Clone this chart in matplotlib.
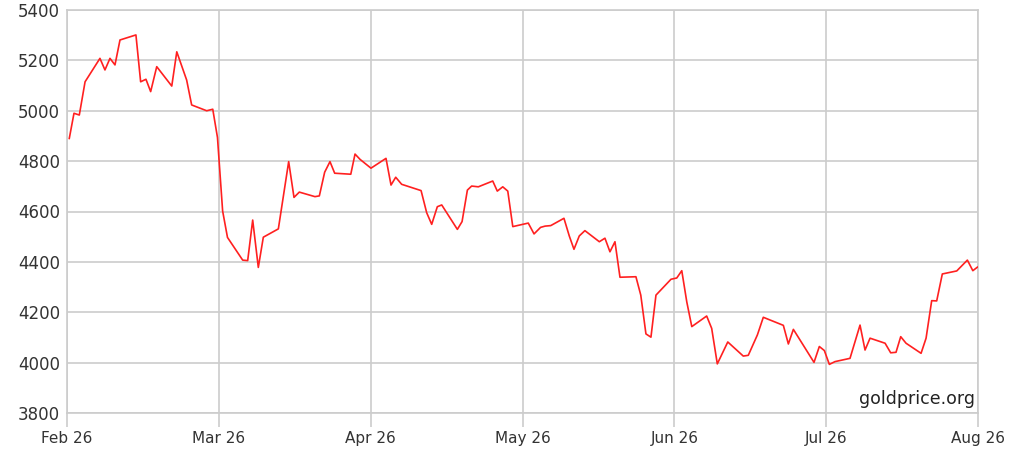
import matplotlib
matplotlib.use("Agg")
import matplotlib.pyplot as plt

# x: months since Feb 26 (each month tick equally spaced), y: price
t_months = [0.015, 0.046, 0.081, 0.119, 0.217, 0.250, 0.283, 0.316, 0.349, 0.454,
            0.485, 0.520, 0.551, 0.591, 0.690, 0.723, 0.788, 0.821, 0.920, 0.960,
            0.991, 1.025, 1.057, 1.157, 1.190, 1.223, 1.260, 1.293, 1.392, 1.460,
            1.495, 1.530, 1.633, 1.662, 1.697, 1.732, 1.763, 1.869, 1.897, 1.930,
            2.002, 2.101, 2.134, 2.165, 2.204, 2.332, 2.369, 2.402, 2.439, 2.468,
            2.571, 2.602, 2.637, 2.665, 2.709, 2.804, 2.834, 2.870, 2.903, 2.936,
            3.038, 3.076, 3.119, 3.149, 3.186, 3.273, 3.308, 3.339, 3.374, 3.411,
            3.506, 3.543, 3.576, 3.609, 3.642, 3.747, 3.779, 3.813, 3.846, 3.879,
            3.978, 4.016, 4.049, 4.082, 4.115, 4.213, 4.246, 4.283, 4.352, 4.454,
            4.487, 4.547, 4.586, 4.718, 4.751, 4.784, 4.920, 4.955, 4.988, 5.021,
            5.058, 5.157, 5.223, 5.256, 5.289, 5.388, 5.425, 5.460, 5.491, 5.526,
            5.625, 5.658, 5.695, 5.728, 5.765, 5.860, 5.930, 5.966, 5.996]
price = [4890, 4990, 4983, 5115, 5208, 5162, 5208, 5182, 5281, 5301,
         5115, 5125, 5076, 5175, 5098, 5234, 5122, 5023, 5000, 5006,
         4894, 4602, 4497, 4407, 4405, 4566, 4378, 4498, 4531, 4798,
         4656, 4677, 4659, 4662, 4756, 4798, 4752, 4748, 4828, 4807,
         4772, 4811, 4705, 4736, 4708, 4683, 4595, 4549, 4619, 4626,
         4529, 4560, 4685, 4701, 4698, 4721, 4681, 4698, 4681, 4540,
         4554, 4511, 4537, 4542, 4544, 4573, 4503, 4450, 4503, 4524,
         4480, 4494, 4440, 4480, 4339, 4341, 4268, 4114, 4101, 4268,
         4331, 4336, 4365, 4241, 4143, 4185, 4136, 3995, 4082, 4026,
         4029, 4110, 4180, 4148, 4074, 4132, 4001, 4064, 4048, 3993,
         4004, 4017, 4149, 4050, 4097, 4077, 4039, 4041, 4103, 4077,
         4037, 4097, 4246, 4245, 4352, 4364, 4407, 4365, 4379]

x_tick_labels = ["Feb 26", "Mar 26", "Apr 26", "May 26", "Jun 26", "Jul 26", "Aug 26"]
y_ticks = [3800, 4000, 4200, 4400, 4600, 4800, 5000, 5200, 5400]
watermark = "goldprice.org"

plt.rcParams['font.family'] = ['DejaVu Sans']

fig = plt.figure(figsize=(10.2, 4.63), dpi=100)
ax = fig.add_axes([67/1020, 1 - 413/463, (978 - 67)/1020, (413 - 10)/463])

grid_c = "#cccccc"
ax.plot(t_months, price, color="#ff2020", linewidth=1.2, zorder=3)

ax.set_xlim(0, len(x_tick_labels) - 1)
ax.set_ylim(y_ticks[0], y_ticks[-1])
ax.set_xticks(range(len(x_tick_labels)))
ax.set_xticklabels(x_tick_labels, fontsize=11, color="#333333")
ax.set_yticks(y_ticks)
ax.set_yticklabels([str(v) for v in y_ticks], fontsize=12, color="#333333")

ax.grid(True, color=grid_c, linewidth=1.2, zorder=0)
ax.set_axisbelow(True)
for s in ax.spines.values():
    s.set_color(grid_c)
    s.set_linewidth(1.2)
ax.tick_params(axis="x", length=10, width=1.2, color=grid_c, pad=3)
ax.tick_params(axis="y", length=0, pad=5)

ax.text(0.997, 0.012, watermark, transform=ax.transAxes, ha="right", va="bottom",
        fontsize=12.5, color="#222222")

fig.savefig("out.png", dpi=100)
